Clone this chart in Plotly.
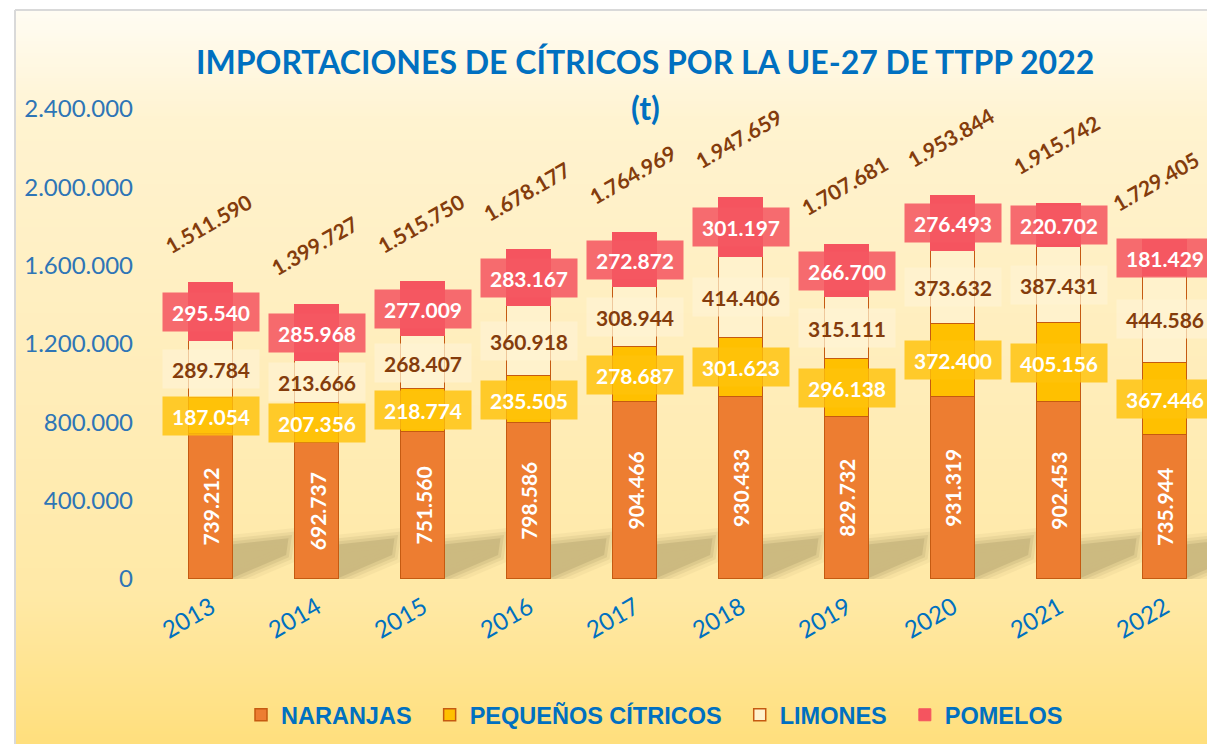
import base64, struct, zlib
import plotly.graph_objects as go

# ---------------- data ----------------
years = ["2013", "2014", "2015", "2016", "2017", "2018", "2019", "2020", "2021", "2022"]
naranjas = [739212, 692737, 751560, 798586, 904466, 930433, 829732, 931319, 902453, 735944]
pequenos = [187054, 207356, 218774, 235505, 278687, 301623, 296138, 372400, 405156, 367446]
limones = [289784, 213666, 268407, 360918, 308944, 414406, 315111, 373632, 387431, 444586]
pomelos = [295540, 285968, 277009, 283167, 272872, 301197, 266700, 276493, 220702, 181429]
totales = [1511590, 1399727, 1515750, 1678177, 1764969, 1947659, 1707681, 1953844, 1915742, 1729405]
y_ticks = [0, 400000, 800000, 1200000, 1600000, 2000000, 2400000]
series_names = ["NARANJAS", "PEQUEÑOS CÍTRICOS", "LIMONES", "POMELOS"]

# ---------------- geometry ----------------
W, H = 1207, 744
ML, MR, MT, MB = 158, 0, 109, 165
PW, PH = W - ML - MR, H - MT - MB
YMAX = 2400000
XR = [-0.5, 9.396]
UPX = PW / (XR[1] - XR[0])     # px per category unit
VPX = YMAX / PH                # data units per px (y)
BW = 0.41

def px2paper_x(px):
    return (px - ML) / PW

def px2paper_y(py):
    return (H - MB - py) / PH

def fmt(v):
    return f"{v:,}".replace(",", ".")

# ---------------- gradient background ----------------
def png_gradient(stops, h=256, w=2):
    raw = b""
    for r in range(h):
        t = r / (h - 1)
        for k in range(len(stops) - 1):
            t0, c0 = stops[k]
            t1, c1 = stops[k + 1]
            if t0 <= t <= t1:
                f = (t - t0) / (t1 - t0) if t1 > t0 else 0
                c = [round(c0[j] + (c1[j] - c0[j]) * f) for j in range(3)]
                break
        raw += b"\x00" + bytes(c) * w

    def chunk(tag, data):
        return struct.pack(">I", len(data)) + tag + data + struct.pack(">I", zlib.crc32(tag + data) & 0xffffffff)

    png = (b"\x89PNG\r\n\x1a\n"
           + chunk(b"IHDR", struct.pack(">IIBBBBB", w, h, 8, 2, 0, 0, 0))
           + chunk(b"IDAT", zlib.compress(raw))
           + chunk(b"IEND", b""))
    return "data:image/png;base64," + base64.b64encode(png).decode()

grad = png_gradient([
    (0.0, (255, 252, 243)),
    (0.15, (255, 243, 208)),
    (0.5, (255, 237, 186)),
    (0.8, (255, 233, 166)),
    (1.0, (255, 223, 125)),
])

# ---------------- colors ----------------
C_NAR, C_PEQ, C_LIM, C_POM = "#ED7D31", "#FFC000", "#FFF2CC", "#F5545F"
C_EDGE = "#C55A11"
BOX = {
    "peq": "rgba(255,194,10,0.82)",
    "lim": "rgba(255,243,210,0.72)",
    "pom": "rgba(245,88,98,0.88)",
}
BROWN = "#843C0C"
BLUE = "#0070C0"
FONT = "Lato, Open Sans, sans-serif"
PAD = "\u00a0\u00a0"   # spacing after legend entries

x = list(range(len(years)))

fig = go.Figure()
fig.add_trace(go.Bar(x=x, y=naranjas, name=series_names[0] + PAD, width=BW,
                     marker=dict(color=C_NAR, line=dict(color=C_EDGE, width=1.5))))
fig.add_trace(go.Bar(x=x, y=pequenos, name=series_names[1] + PAD, width=BW,
                     marker=dict(color=C_PEQ, line=dict(color=C_EDGE, width=1.5))))
fig.add_trace(go.Bar(x=x, y=limones, name=series_names[2] + PAD, width=BW,
                     marker=dict(color=C_LIM, line=dict(color=C_EDGE, width=1.5))))
fig.add_trace(go.Bar(x=x, y=pomelos, name=series_names[3], width=BW,
                     marker=dict(color=C_POM, line=dict(color=C_POM, width=1))))

annotations = []
shapes = []
last = len(years) - 1

for i in x:
    b0 = naranjas[i]
    b1 = b0 + pequenos[i]
    b2 = b1 + limones[i]
    b3 = b2 + pomelos[i]
    # naranjas vertical label
    annotations.append(dict(x=i, y=b0 / 2, text=fmt(naranjas[i]), showarrow=False, textangle=-90,
                            font=dict(family=FONT, size=21, color="white", weight="bold")))
    for mid, val, key, col in [((b0 + b1) / 2, pequenos[i], "peq", "white"),
                               ((b1 + b2) / 2, limones[i], "lim", BROWN),
                               ((b2 + b3) / 2, pomelos[i], "pom", "white")]:
        annotations.append(dict(x=i, y=mid, text=fmt(val), showarrow=False,
                                bgcolor=BOX[key], width=90, height=32, borderpad=3,
                                font=dict(family=FONT, size=21, color=col, weight="bold")))
    annotations.append(dict(x=i, y=totales[i], yshift=59, xshift=(-10 if i == last else -3),
                            text=fmt(totales[i]), showarrow=False, textangle=-30, borderpad=0,
                            font=dict(family=FONT, size=21, color=BROWN, weight="bold")))
    # soft shadow at base (decorative)
    xr = i + BW / 2
    pts = [(-2, -2), (52, -25), (54, -39), (-2, -33)]
    path = "M " + " L ".join(f"{xr + dx / UPX},{-dy * VPX}" for dx, dy in pts) + " Z"
    for lw, op in [(22, 0.05), (15, 0.08), (9, 0.10), (3, 0.14)]:
        shapes.append(dict(type="path", xref="x", yref="y", path=path, layer="below",
                           fillcolor="rgb(110,92,52)", opacity=op,
                           line=dict(color="rgb(110,92,52)", width=lw)))

# title
annotations.append(dict(xref="paper", yref="paper", x=px2paper_x(645), y=px2paper_y(62),
                        text="IMPORTACIONES DE CÍTRICOS POR LA UE-27 DE TTPP 2022", showarrow=False,
                        xanchor="center", yanchor="middle",
                        font=dict(family=FONT, size=32, color=BLUE, weight="bold")))
annotations.append(dict(xref="paper", yref="paper", x=px2paper_x(645), y=px2paper_y(108),
                        text="(t)", showarrow=False, xanchor="center", yanchor="middle",
                        font=dict(family=FONT, size=32, color=BLUE, weight="bold")))

# frame line of the chart area
shapes.append(dict(type="line", xref="paper", yref="paper",
                   x0=px2paper_x(15), x1=px2paper_x(15), y0=px2paper_y(10), y1=px2paper_y(744),
                   line=dict(color="#D9D9D9", width=2), layer="above"))
shapes.append(dict(type="line", xref="paper", yref="paper",
                   x0=px2paper_x(15), x1=px2paper_x(1207), y0=px2paper_y(10), y1=px2paper_y(10),
                   line=dict(color="#D9D9D9", width=2), layer="above"))

fig.update_layout(
    width=W, height=H,
    margin=dict(l=ML, r=MR, t=MT, b=MB, autoexpand=False),
    paper_bgcolor="white", plot_bgcolor="rgba(0,0,0,0)",
    barmode="stack",
    bargap=0,
    showlegend=True,
    legend=dict(orientation="h", xref="container", yref="container",
                x=241 / W, y=1 - 715 / H, xanchor="left", yanchor="middle",
                font=dict(family="Liberation Sans, Arial, sans-serif",
                          size=23.5, color=BLUE, weight="bold"),
                bgcolor="rgba(0,0,0,0)", traceorder="normal"),
    xaxis=dict(range=XR, tickmode="array", tickvals=x, ticktext=years, tickangle=-30,
               tickfont=dict(family=FONT, size=24, color=BLUE),
               showgrid=False, zeroline=False, showline=False, ticks="",
               ticklabelstandoff=9),
    yaxis=dict(range=[0, YMAX], tickmode="array", tickvals=y_ticks,
               ticktext=[fmt(v) for v in y_ticks],
               tickfont=dict(family=FONT, size=24, color="#2E75B6"),
               showgrid=False, zeroline=False, showline=False, ticks="",
               ticklabelstandoff=24),
    images=[dict(source=grad, xref="paper", yref="paper",
                 x=px2paper_x(16), y=px2paper_y(11),
                 sizex=(W - 16) / PW, sizey=(H - 11) / PH,
                 sizing="stretch", xanchor="left", yanchor="top", layer="below")],
    annotations=annotations,
    shapes=shapes,
)

fig.write_html("out.html", config={"displayModeBar": False},
               post_script="document.body.style.margin='0';document.body.style.overflow='hidden';")
